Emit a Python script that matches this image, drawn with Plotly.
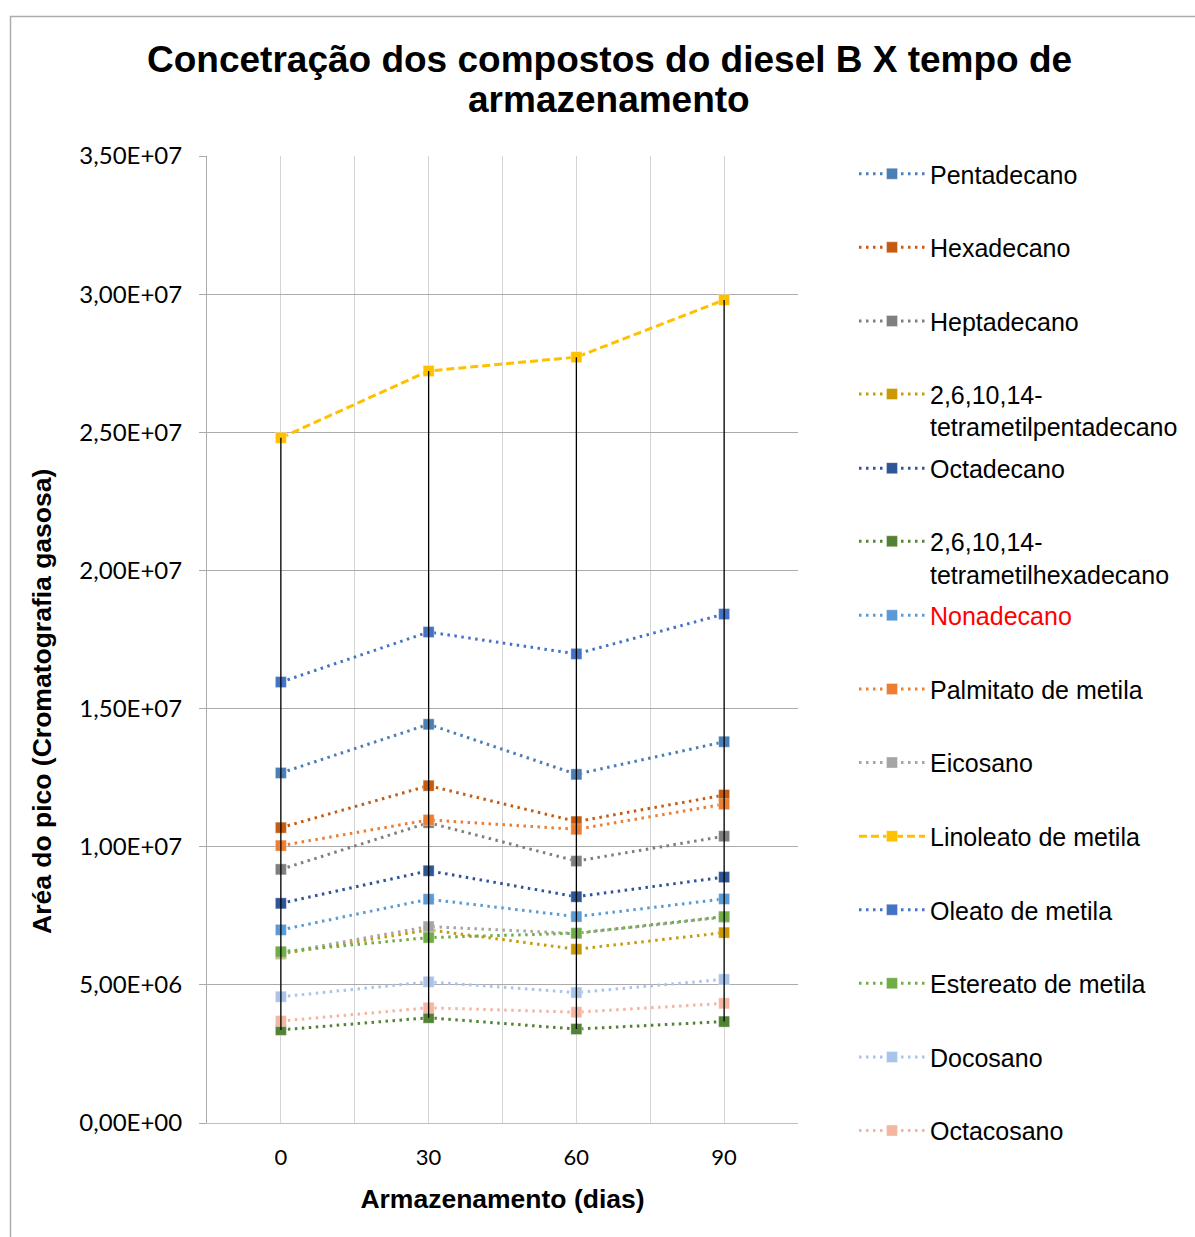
import plotly.graph_objects as go

# Storage time (days)
dias = [0, 30, 60, 90]

# Peak areas (gas chromatography) per compound
pentadecano = [12.67e6, 14.43e6, 12.62e6, 13.80e6]
hexadecano = [10.69e6, 12.21e6, 10.91e6, 11.87e6]
heptadecano = [9.18e6, 10.87e6, 9.48e6, 10.38e6]
tetrametilpentadecano = [6.12e6, 6.99e6, 6.29e6, 6.89e6]
octadecano = [7.95e6, 9.13e6, 8.19e6, 8.90e6]
tetrametilhexadecano = [3.37e6, 3.81e6, 3.40e6, 3.67e6]
nonadecano = [6.99e6, 8.10e6, 7.47e6, 8.11e6]
palmitato = [10.04e6, 10.97e6, 10.63e6, 11.54e6]
eicosano = [6.15e6, 7.11e6, 6.86e6, 7.45e6]
linoleato = [24.80e6, 27.22e6, 27.72e6, 29.79e6]
oleato = [15.96e6, 17.77e6, 16.98e6, 18.42e6]
estereato = [6.20e6, 6.71e6, 6.87e6, 7.47e6]
docosano = [4.57e6, 5.11e6, 4.72e6, 5.20e6]
octacosano = [3.69e6, 4.17e6, 4.01e6, 4.33e6]

series_names = [
    "Pentadecano", "Hexadecano", "Heptadecano",
    "2,6,10,14-<br>tetrametilpentadecano", "Octadecano",
    "2,6,10,14-<br>tetrametilhexadecano", "Nonadecano",
    "Palmitato de metila", "Eicosano", "Linoleato de metila",
    "Oleato de metila", "Estereato de metila", "Docosano", "Octacosano",
]
series_values = [
    pentadecano, hexadecano, heptadecano, tetrametilpentadecano, octadecano,
    tetrametilhexadecano, nonadecano, palmitato, eicosano, linoleato,
    oleato, estereato, docosano, octacosano,
]
series_colors = [
    "#4A7EB5", "#C55A11", "#7F7F7F", "#C99A06", "#2F5597", "#548235",
    "#5B9BD5", "#ED7D31", "#A5A5A5", "#FFC000", "#4472C4", "#70AD47",
    "#A9C4EB", "#F4B6A0",
]
series_dash = ["dot"] * 14
series_dash[9] = "dash"

y_tickvals = [0, 5e6, 10e6, 15e6, 20e6, 25e6, 30e6, 35e6]
y_ticktext = ["0,00E+00", "5,00E+06", "1,00E+07", "1,50E+07",
              "2,00E+07", "2,50E+07", "3,00E+07", "3,50E+07"]
x_tickvals = [0, 15, 30, 45, 60, 75, 90, 105]
x_ticktext = ["0", "", "30", "", "60", "", "90", ""]

title_lines = ["Concetração dos compostos do diesel B X tempo de", "armazenamento"]

# plot area in pixels
W, H = 1195, 1237
L, R, T, B = 207, 1195 - 798, 156, 1237 - 1123
PW, PH = W - L - R, H - T - B


def px_x(px):
    return (px - L) / PW


def px_y(py):
    return (H - B - py) / PH


fig = go.Figure()

dash_map = {"dot": "2.5px,4.5px", "dash": "8px,4px"}

for i, (name, vals, col, dsh) in enumerate(
        zip(series_names, series_values, series_colors, series_dash)):
    lg = "legend" if i == 0 else f"legend{i + 1}"
    fig.add_trace(go.Scatter(
        x=dias, y=vals, name=name, mode="lines+markers",
        line=dict(color=col, width=3, dash=dash_map[dsh]),
        marker=dict(symbol="square", size=11, color=col,
                    line=dict(width=1, color="rgba(255,255,255,0.35)")),
        legend=lg,
    ))

# high-low lines spanning all series at each storage time
hl_x, hl_y = [], []
for j, d in enumerate(dias):
    col_vals = [v[j] for v in series_values]
    hl_x += [d, d, None]
    hl_y += [max(col_vals), min(col_vals), None]
fig.add_trace(go.Scatter(x=hl_x, y=hl_y, mode="lines",
                         line=dict(color="black", width=1.3),
                         showlegend=False, hoverinfo="skip"))

# one legend block per series, evenly stacked on the right
legend_font = dict(family="Liberation Sans, Arial", size=25, color="black")
first_c, step = 174, 73.6
for i, name in enumerate(series_names):
    key = "legend" if i == 0 else f"legend{i + 1}"
    cy = first_c + step * i
    if "<br>" in name:
        cy += 15.5
    font = dict(legend_font)
    if name == "Nonadecano":
        font["color"] = "#FF0000"
    fig.update_layout({key: dict(
        x=px_x(854), xanchor="left", y=px_y(cy), yanchor="middle",
        valign="top", bgcolor="rgba(0,0,0,0)", borderwidth=0,
        itemwidth=66,
        font=font, itemclick=False, itemdoubleclick=False,
    )})

# chart frame
fig.add_shape(type="rect", xref="paper", yref="paper",
              x0=px_x(10.5), x1=px_x(1230), y0=px_y(1260), y1=px_y(16.5),
              line=dict(color="#ADADAD", width=1.5), fillcolor="rgba(0,0,0,0)",
              layer="below")

# chart title, two lines
title_font = dict(family="Liberation Sans, Arial", size=37, color="black")
for line, cy in zip(title_lines, [59, 100]):
    fig.add_annotation(
        text=f"<b>{line}</b>", xref="paper", yref="paper",
        x=px_x(609), y=px_y(cy), xanchor="center", yanchor="middle",
        showarrow=False, font=title_font,
    )

# vertical axis title
fig.add_annotation(
    text="<b>Aréa do pico (Cromatografia gasosa)</b>", textangle=-90,
    xref="paper", yref="paper", x=px_x(42), y=px_y(702),
    xanchor="center", yanchor="middle", showarrow=False,
    font=dict(family="Liberation Sans, Arial", size=26.5, color="black"),
)

fig.update_layout(
    width=W, height=H,
    margin=dict(l=L, r=R, t=T, b=B),
    paper_bgcolor="white", plot_bgcolor="white",
    xaxis=dict(
        range=[-15, 105], tickvals=x_tickvals, ticktext=x_ticktext,
        showgrid=True, gridcolor="#D4D4D4", gridwidth=1,
        showline=True, linecolor="#BFBFBF", linewidth=1,
        zeroline=False, ticks="", ticklabelstandoff=15,
        tickfont=dict(family="Lato, Open Sans", size=22, color="black"),
        title=dict(text="<b>Armazenamento (dias)</b>", standoff=20,
                   font=dict(family="Liberation Sans, Arial", size=26.5, color="black")),
        fixedrange=True,
    ),
    yaxis=dict(
        range=[0, 3.5e7], tickvals=y_tickvals, ticktext=y_ticktext,
        showgrid=True, gridcolor="#ABABAB", gridwidth=1,
        showline=True, linecolor="#ABABAB", linewidth=1,
        zeroline=False, ticks="outside", ticklen=7, tickcolor="#ABABAB",
        ticklabelstandoff=12,
        tickfont=dict(family="Lato, Open Sans", size=24, color="black"),
        fixedrange=True,
    ),
    showlegend=True,
)

fig.write_html("out.html")
